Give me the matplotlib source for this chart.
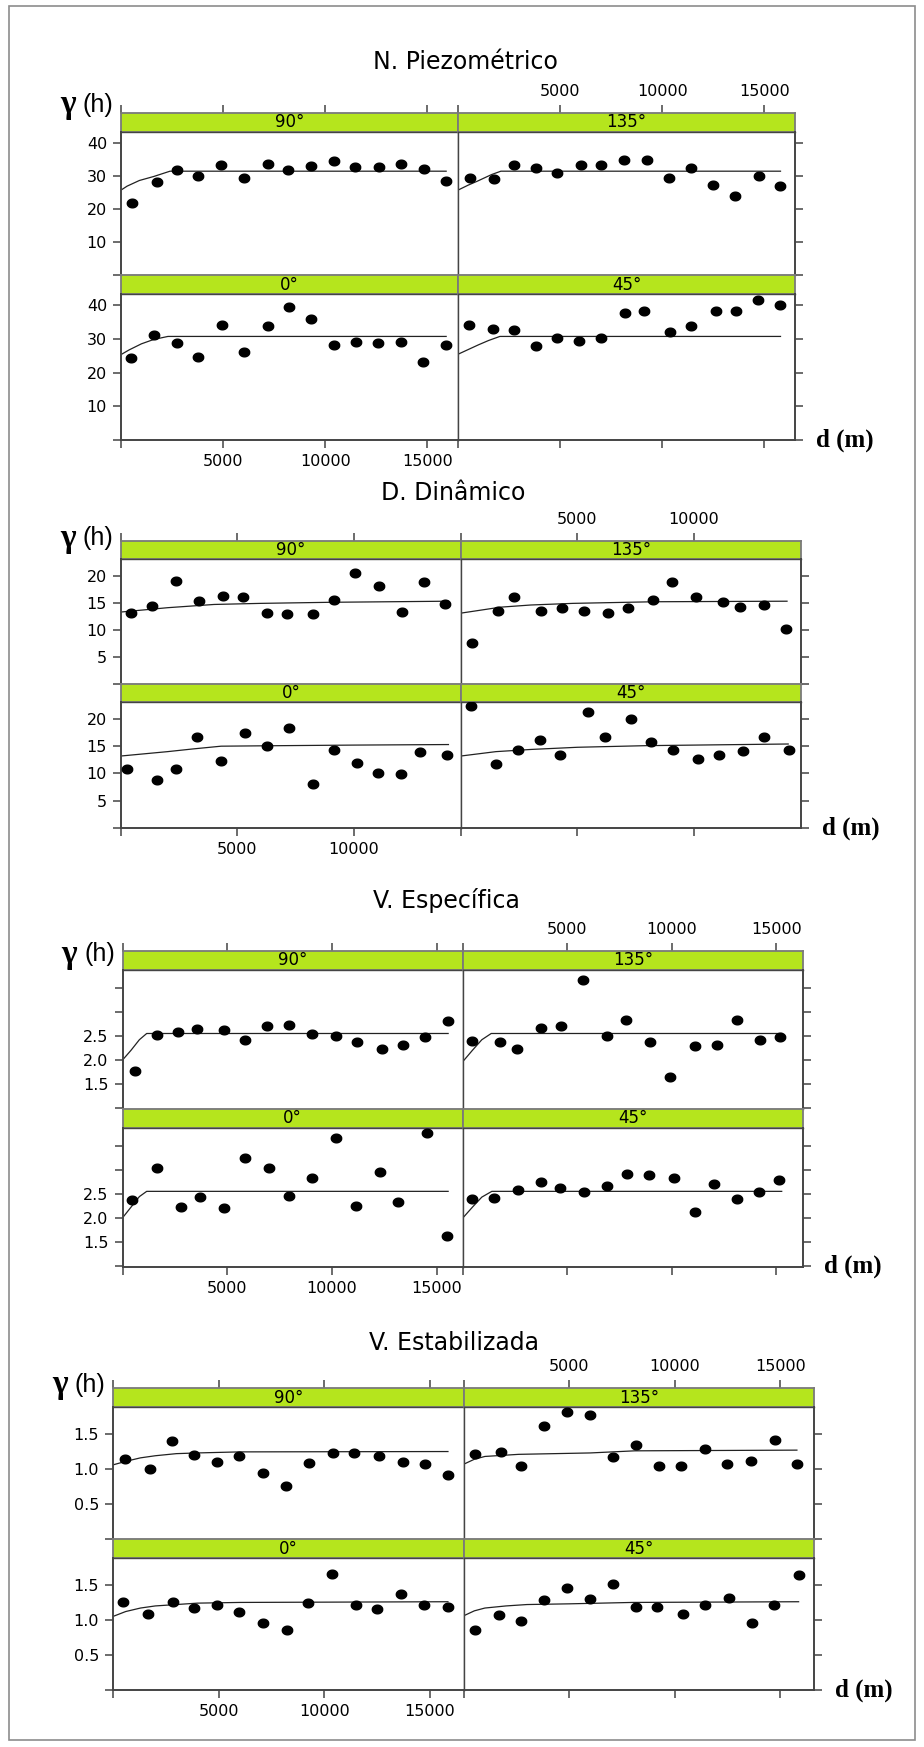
import numpy as np
import matplotlib.pyplot as plt
from matplotlib.patches import Rectangle

plt.rcParams['font.family'] = ['DejaVu Sans']

W, H = 924, 1747

# ---- data: lag distance (m) and semivariance, points + fitted model ----
# N. Piezometrico
piezo_90_d = [520, 1740, 2720, 3790, 4890, 6020, 7180, 8190, 9290, 10450, 11470, 12650, 13720, 14820, 15920]
piezo_90_g = [21.8, 28.2, 31.7, 30.1, 33.2, 29.2, 33.5, 31.8, 33.1, 34.6, 32.6, 32.8, 33.7, 32.2, 28.5]
piezo_90_md = [0, 300, 900, 1600, 2400, 15920]
piezo_90_mg = [25.7, 26.9, 28.6, 29.8, 31.4, 31.4]

piezo_135_d = [570, 1750, 2750, 3840, 4840, 6020, 7020, 8110, 9230, 10320, 11430, 12490, 13550, 14760, 15790]
piezo_135_g = [29.2, 28.9, 33.2, 32.4, 30.9, 33.4, 33.2, 34.7, 34.9, 29.3, 32.4, 27.3, 23.8, 30.1, 26.9]
piezo_135_md = [0, 500, 950, 1650, 2100, 15790]
piezo_135_mg = [25.7, 27.2, 28.4, 30.4, 31.4, 31.4]

piezo_0_d = [490, 1620, 2750, 3790, 4950, 6020, 7180, 8220, 9290, 10450, 11520, 12590, 13690, 14770, 15920]
piezo_0_g = [24.3, 31.1, 28.8, 24.6, 34.1, 26.3, 33.8, 39.6, 36.0, 28.4, 29.0, 28.8, 29.0, 23.2, 28.4]
piezo_0_md = [0, 400, 1000, 1600, 2300, 15920]
piezo_0_mg = [25.4, 26.8, 28.6, 29.9, 30.8, 30.8]

piezo_45_d = [520, 1690, 2720, 3810, 4840, 5930, 6990, 8170, 9110, 10400, 11400, 12610, 13610, 14700, 15790]
piezo_45_g = [34.1, 32.9, 32.8, 27.9, 30.2, 29.4, 30.2, 37.7, 38.5, 32.0, 33.8, 38.5, 38.4, 41.7, 40.2]
piezo_45_md = [0, 500, 1000, 1500, 2050, 15790]
piezo_45_mg = [25.5, 26.9, 28.3, 29.6, 30.8, 30.8]

# D. Dinamico
dina_90_d = [410, 1320, 2360, 3330, 4370, 5250, 6270, 7130, 8250, 9160, 10030, 11090, 12060, 13020, 13910]
dina_90_g = [13.1, 14.4, 19.0, 15.4, 16.2, 16.0, 13.1, 13.0, 12.9, 15.6, 20.6, 18.1, 13.3, 18.8, 14.8]
dina_90_md = [0, 1000, 2000, 3000, 4000, 6000, 9000, 14060]
dina_90_mg = [13.3, 13.7, 14.1, 14.4, 14.7, 14.9, 15.1, 15.3]

dina_135_d = [480, 1580, 2290, 3430, 4320, 5280, 6330, 7190, 8230, 9070, 10080, 11230, 11990, 13010, 13950]
dina_135_g = [7.5, 13.5, 16.0, 13.5, 14.1, 13.5, 13.1, 14.1, 15.6, 18.8, 16.0, 15.1, 14.3, 14.6, 10.2]
dina_135_md = [0, 1700, 3000, 4800, 8300, 14000]
dina_135_mg = [13.1, 14.2, 14.6, 14.9, 15.2, 15.3]

dina_0_d = [250, 1550, 2360, 3270, 4290, 5330, 6270, 7210, 8250, 9160, 10130, 11020, 12030, 12840, 14010]
dina_0_g = [10.8, 8.8, 10.8, 16.6, 12.2, 17.4, 15.1, 18.3, 8.0, 14.3, 12.0, 10.1, 9.9, 13.9, 13.4]
dina_0_md = [0, 1000, 2000, 3100, 4300, 7000, 10000, 14060]
dina_0_mg = [13.2, 13.6, 14.0, 14.5, 15.0, 15.1, 15.2, 15.3]

dina_45_d = [430, 1520, 2440, 3400, 4240, 5440, 6200, 7320, 8150, 9090, 10190, 11100, 12090, 13010, 14100]
dina_45_g = [22.3, 11.8, 14.3, 16.2, 13.4, 21.3, 16.7, 19.9, 15.7, 14.3, 12.7, 13.3, 14.2, 16.6, 14.3]
dina_45_md = [0, 1500, 3000, 5000, 8000, 14050]
dina_45_mg = [13.2, 14.0, 14.4, 14.8, 15.1, 15.4]

# V. Especifica
espe_90_d = [590, 1630, 2640, 3570, 4830, 5820, 6910, 7950, 9050, 10200, 11180, 12360, 13400, 14420, 15540]
espe_90_g = [1.76, 2.51, 2.59, 2.65, 2.63, 2.41, 2.70, 2.72, 2.53, 2.49, 2.38, 2.22, 2.32, 2.47, 2.81]
espe_90_md = [0, 400, 800, 1150, 15540]
espe_90_mg = [2.0, 2.2, 2.42, 2.55, 2.55]

espe_135_d = [440, 1770, 2600, 3740, 4710, 5730, 6900, 7810, 8950, 9890, 11110, 12160, 13100, 14210, 15150]
espe_135_g = [2.40, 2.37, 2.23, 2.66, 2.71, 3.67, 2.50, 2.83, 2.38, 1.65, 2.29, 2.31, 2.84, 2.42, 2.48]
espe_135_md = [0, 450, 900, 1350, 15250]
espe_135_mg = [1.97, 2.2, 2.42, 2.55, 2.55]

espe_0_d = [450, 1660, 2780, 3710, 4830, 5850, 6970, 7920, 9020, 10170, 11160, 12280, 13150, 14530, 15510]
espe_0_g = [2.38, 3.03, 2.22, 2.44, 2.20, 3.25, 3.03, 2.45, 2.82, 3.66, 2.24, 2.95, 2.33, 3.76, 1.63]
espe_0_md = [0, 400, 800, 1150, 15540]
espe_0_mg = [2.0, 2.22, 2.44, 2.55, 2.55]

espe_45_d = [420, 1500, 2630, 3710, 4630, 5790, 6900, 7870, 8890, 10080, 11080, 12020, 13130, 14160, 15120]
espe_45_g = [2.40, 2.41, 2.57, 2.74, 2.62, 2.54, 2.67, 2.91, 2.89, 2.83, 2.12, 2.71, 2.39, 2.53, 2.79]
espe_45_md = [0, 450, 900, 1380, 15250]
espe_45_mg = [2.0, 2.22, 2.43, 2.55, 2.55]

# V. Estabilizada
esta_90_d = [580, 1750, 2810, 3810, 4920, 5980, 7090, 8200, 9260, 10430, 11400, 12570, 13710, 14760, 15850]
esta_90_g = [1.14, 1.00, 1.40, 1.20, 1.10, 1.19, 0.94, 0.76, 1.09, 1.23, 1.23, 1.19, 1.10, 1.07, 0.91]
esta_90_md = [0, 600, 1300, 2000, 3000, 4000, 6000, 15850]
esta_90_mg = [1.06, 1.11, 1.16, 1.19, 1.22, 1.23, 1.245, 1.25]

esta_135_d = [530, 1780, 2700, 3810, 4890, 5980, 7060, 8150, 9260, 10310, 11430, 12480, 13620, 14760, 15790]
esta_135_g = [1.21, 1.25, 1.04, 1.62, 1.81, 1.77, 1.17, 1.34, 1.05, 1.04, 1.28, 1.07, 1.11, 1.42, 1.07]
esta_135_md = [0, 500, 1000, 2600, 6000, 8100, 15790]
esta_135_mg = [1.07, 1.14, 1.18, 1.21, 1.23, 1.26, 1.27]

esta_0_d = [470, 1670, 2840, 3840, 4920, 5980, 7120, 8230, 9230, 10370, 11480, 12510, 13650, 14710, 15850]
esta_0_g = [1.25, 1.09, 1.26, 1.17, 1.21, 1.12, 0.95, 0.86, 1.24, 1.65, 1.22, 1.15, 1.37, 1.22, 1.19]
esta_0_md = [0, 600, 1300, 2000, 3000, 4000, 6000, 15850]
esta_0_mg = [1.05, 1.12, 1.17, 1.20, 1.22, 1.24, 1.25, 1.26]

esta_45_d = [530, 1670, 2700, 3810, 4890, 5980, 7060, 8150, 9170, 10370, 11430, 12590, 13650, 14710, 15870]
esta_45_g = [0.85, 1.07, 0.98, 1.29, 1.45, 1.30, 1.52, 1.18, 1.19, 1.09, 1.21, 1.31, 0.95, 1.21, 1.64]
esta_45_md = [0, 500, 1000, 2000, 3000, 5000, 8000, 15870]
esta_45_mg = [1.06, 1.13, 1.17, 1.20, 1.22, 1.23, 1.25, 1.26]

titles = ['N. Piezométrico', 'D. Dinâmico', 'V. Específica', 'V. Estabilizada']
directions = ['90', '135', '0', '45']
y_ticks = [[0, 10, 20, 30, 40], [0, 5, 10, 15, 20], [1.0, 1.5, 2.0, 2.5, 3.0, 3.5], [0, 0.5, 1.0, 1.5]]
y_ticklabels = [['', '10', '20', '30', '40'], ['', '5', '10', '15', '20'],
                ['', '1.5', '2.0', '2.5', '', ''], ['', '0.5', '1.0', '1.5']]
x_ticks = [[0, 5000, 10000, 15000], [0, 5000, 10000], [0, 5000, 10000, 15000], [0, 5000, 10000, 15000]]
x_ticklabels = [['', '5000', '10000', '15000'], ['', '5000', '10000'],
                ['', '5000', '10000', '15000'], ['', '5000', '10000', '15000']]
x_max = [16500, 14600, 16250, 16600]
y_lims = [(0, 43.3), (0, 23.1), (0.98, 3.87), (0, 1.88)]

panels = [
    {'90': (piezo_90_d, piezo_90_g, piezo_90_md, piezo_90_mg),
     '135': (piezo_135_d, piezo_135_g, piezo_135_md, piezo_135_mg),
     '0': (piezo_0_d, piezo_0_g, piezo_0_md, piezo_0_mg),
     '45': (piezo_45_d, piezo_45_g, piezo_45_md, piezo_45_mg)},
    {'90': (dina_90_d, dina_90_g, dina_90_md, dina_90_mg),
     '135': (dina_135_d, dina_135_g, dina_135_md, dina_135_mg),
     '0': (dina_0_d, dina_0_g, dina_0_md, dina_0_mg),
     '45': (dina_45_d, dina_45_g, dina_45_md, dina_45_mg)},
    {'90': (espe_90_d, espe_90_g, espe_90_md, espe_90_mg),
     '135': (espe_135_d, espe_135_g, espe_135_md, espe_135_mg),
     '0': (espe_0_d, espe_0_g, espe_0_md, espe_0_mg),
     '45': (espe_45_d, espe_45_g, espe_45_md, espe_45_mg)},
    {'90': (esta_90_d, esta_90_g, esta_90_md, esta_90_mg),
     '135': (esta_135_d, esta_135_g, esta_135_md, esta_135_mg),
     '0': (esta_0_d, esta_0_g, esta_0_md, esta_0_mg),
     '45': (esta_45_d, esta_45_g, esta_45_md, esta_45_mg)},
]

# ---- layout in pixels ----
# left, mid, right, strip top, strip bottom, panel bottom, strip2 bottom, panel2 bottom
layouts = [
    (121, 458, 795, 112.7, 131.7, 275.4, 294.4, 440),
    (121, 461, 801, 541, 559, 684, 702, 828),
    (122.6, 463, 802.6, 950.7, 970, 1109, 1128, 1266.7),
    (113, 463.8, 814, 1388.3, 1407.3, 1539.3, 1558.3, 1690),
]
title_pos = [(465, 62), (453, 493), (446, 900), (454, 1343)]
gamma_y = [105, 538, 954, 1385]

fig = plt.figure(figsize=(W / 100, H / 100), dpi=100)
fig.patch.set_facecolor('white')


def px_axes(l, t, r, b):
    return fig.add_axes([l / W, 1 - b / H, (r - l) / W, (b - t) / H])


t = np.linspace(0, 2 * np.pi, 40)
oval = np.column_stack([1.2 * np.cos(t), np.sin(t)])

tick_kw = dict(direction='out', length=6, width=1.1, color='#444444', labelsize=11.5, pad=4)
strip_green = '#b5e51d'

for gi in range(4):
    l, m, r, s1t, s1b, p1b, s2b, p2b = layouts[gi]
    sh = s1b - s1t
    fig.text(title_pos[gi][0] / W, 1 - title_pos[gi][1] / H, titles[gi],
             ha='center', va='center', fontsize=17)
    fig.text((l - 61) / W, 1 - gamma_y[gi] / H, 'γ', family='Liberation Serif',
             fontweight='bold', fontsize=24, ha='left', va='center')
    fig.text((l - 38) / W, 1 - gamma_y[gi] / H, '(h)', family='Liberation Sans',
             fontsize=18, ha='left', va='center')
    fig.text((r + 21) / W, 1 - p2b / H, 'd (m)', family='Liberation Serif',
             fontweight='bold', fontsize=18, ha='left', va='center')

    pos = {'90': (l, m, s1b, p1b, 'left', 'top'),
           '135': (m, r, s1b, p1b, 'right', 'top'),
           '0': (l, m, s2b, p2b, 'left', 'bottom'),
           '45': (m, r, s2b, p2b, 'right', 'bottom')}
    for key in directions:
        d, g, md, mg = panels[gi][key]
        x0, x1, top, bot, col, row = pos[key]
        sax = px_axes(x0, top - sh, x1, top)
        ax = px_axes(x0, top, x1, bot)

        # strip
        sax.set_facecolor(strip_green)
        sax.set_xlim(0, x_max[gi])
        sax.set_ylim(0, 1)
        sax.set_yticks([])
        for sp in sax.spines.values():
            sp.set_color('#7a7a7a')
            sp.set_linewidth(1.3)
        sax.text(0.5, 0.5, key + '°', transform=sax.transAxes, ha='center',
                 va='center', fontsize=12)
        if row == 'top':
            sax.xaxis.tick_top()
            sax.set_xticks(x_ticks[gi])
            sax.set_xticklabels(x_ticklabels[gi] if col == 'right' else [''] * len(x_ticks[gi]))
            sax.tick_params(axis='x', **tick_kw)
        else:
            sax.set_xticks([])

        # panel
        ax.plot(md, mg, color='#222222', lw=0.9, zorder=2)
        ax.plot(d, g, linestyle='none', marker=oval, markersize=7.5,
                color='black', zorder=3)
        ax.set_xlim(0, x_max[gi])
        ax.set_ylim(*y_lims[gi])
        ax.set_yticks(y_ticks[gi])
        if col == 'left':
            ax.yaxis.tick_left()
            ax.set_yticklabels(y_ticklabels[gi])
        else:
            ax.yaxis.tick_right()
            ax.set_yticklabels([''] * len(y_ticks[gi]))
        if row == 'bottom':
            ax.xaxis.tick_bottom()
            ax.set_xticks(x_ticks[gi])
            ax.set_xticklabels(x_ticklabels[gi] if col == 'left' else [''] * len(x_ticks[gi]))
        else:
            ax.set_xticks([])
        ax.tick_params(**tick_kw)
        for name, sp in ax.spines.items():
            sp.set_color('#444444')
            sp.set_linewidth(1.0)
        ax.spines['left' if col == 'left' else 'right'].set_linewidth(1.4)
        if row == 'bottom':
            ax.spines['bottom'].set_linewidth(1.4)

fig.add_artist(Rectangle((9 / W, 1 - 1740 / H), (915 - 9) / W, (1740 - 6) / H,
                         transform=fig.transFigure, fill=False, ec='#8c8c8c', lw=1.2))

fig.savefig('out.png', dpi=100)
